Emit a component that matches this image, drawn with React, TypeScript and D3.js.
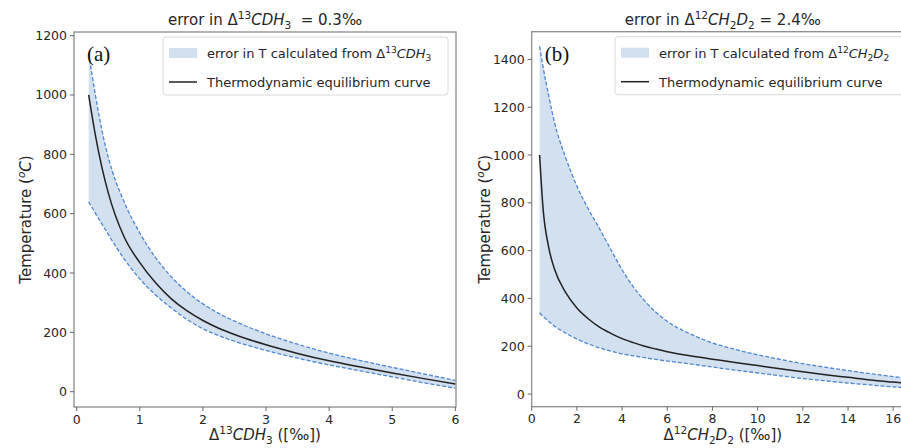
import React from "react";
import * as d3 from "d3";

// Panel (a): Δ13CDH3 (‰) vs temperature (°C)
const xA = [0.19, 0.3, 0.4, 0.5, 0.75, 1.0, 1.25, 1.5, 1.75, 2.0, 2.25, 2.5, 3.0, 3.5, 4.0, 4.5, 5.0, 5.5, 6.0];
const curveA = [1000, 860, 755, 670, 522, 435, 367, 313, 272, 240, 214, 193, 158, 129, 104, 83, 63, 44, 26];
const upperA = [1140, 995, 880, 790, 640, 535, 452, 387, 336, 296, 264, 238, 195, 160, 130, 105, 82, 60, 38];
const lowerA = [640, 600, 565, 530, 448, 380, 326, 282, 243, 212, 189, 170, 139, 113, 90, 70, 50, 30, 12];
const xTicksA = [0, 1, 2, 3, 4, 5, 6];
const yTicksA = [0, 200, 400, 600, 800, 1000, 1200];

// Panel (b): Δ12CH2D2 (‰) vs temperature (°C)
const xB = [0.35, 0.5, 0.75, 1.0, 1.5, 2.0, 2.5, 3.0, 3.5, 4.0, 4.5, 5.0, 5.5, 6.0, 7.0, 8.0, 9.0, 10.0, 11.0, 12.0, 13.0, 14.0, 15.0, 16.0, 17.0];
const curveB = [1000, 780, 615, 525, 425, 360, 315, 280, 254, 232, 215, 200, 188, 177, 160, 146, 132, 119, 106, 93, 81, 70, 59, 50, 41];
const upperB = [1455, 1370, 1250, 1140, 990, 870, 775, 692, 605, 520, 448, 390, 342, 304, 252, 214, 187, 164, 145, 127, 112, 98, 85, 73, 62];
const lowerB = [340, 325, 305, 285, 255, 230, 210, 193, 180, 168, 160, 152, 145, 138, 126, 113, 100, 88, 76, 65, 55, 46, 38, 30, 23];
const xTicksB = [0, 2, 4, 6, 8, 10, 12, 14, 16];
const yTicksB = [0, 200, 400, 600, 800, 1000, 1200, 1400];

const FONT = "DejaVu Sans, sans-serif";
const FILL = "#d3e0ef";
const DASH = "#4f86d0";

type Seg = { t: string; k?: "sup" | "sub"; it?: boolean };

function rich(segs: Seg[], fs: number) {
  let cur = 0;
  return segs.map((s, i) => {
    const target = s.k === "sup" ? -fs * 0.4 : s.k === "sub" ? fs * 0.25 : 0;
    const dy = target - cur;
    cur = target;
    return (
      <tspan
        key={i}
        dy={dy}
        fontSize={s.k ? fs * 0.7 : fs}
        fontStyle={s.it ? "italic" : "normal"}
      >
        {s.t}
      </tspan>
    );
  });
}

const CDH3: Seg[] = [{ t: "Δ" }, { t: "13", k: "sup" }, { t: "CDH", it: true }, { t: "3", k: "sub" }];
const CH2D2: Seg[] = [
  { t: "Δ" },
  { t: "12", k: "sup" },
  { t: "CH", it: true },
  { t: "2", k: "sub" },
  { t: "D", it: true },
  { t: "2", k: "sub" },
];

type PanelProps = {
  left: number;
  right: number;
  top: number;
  bottom: number;
  xDomain: [number, number];
  yDomain: [number, number];
  xs: number[];
  curve: number[];
  upper: number[];
  lower: number[];
  xTicks: number[];
  yTicks: number[];
  title: Seg[];
  xLabel: Seg[];
  legendLabel: Seg[];
  tag: string;
  legendWidth: number;
  yLabelX: number;
};

function Panel(p: PanelProps) {
  const x = d3.scaleLinear().domain(p.xDomain).range([p.left, p.right]);
  const y = d3.scaleLinear().domain(p.yDomain).range([p.bottom, p.top]);
  const idx = p.xs.map((_, i) => i);
  const area = d3
    .area<number>()
    .x((i) => x(p.xs[i]))
    .y0((i) => y(p.lower[i]))
    .y1((i) => y(p.upper[i]))
    .curve(d3.curveMonotoneX);
  const line = (arr: number[]) =>
    d3
      .line<number>()
      .x((i) => x(p.xs[i]))
      .y((i) => y(arr[i]))
      .curve(d3.curveMonotoneX)(idx) || "";
  const cx = (p.left + p.right) / 2;
  const cy = (p.top + p.bottom) / 2;
  const lx = p.right - 8 - p.legendWidth;
  const ly = p.top + 5;
  const pre = { whiteSpace: "pre" as const };
  return (
    <g>
      <path d={area(idx) || ""} fill={FILL} stroke="none" />
      <path d={line(p.upper)} fill="none" stroke={DASH} strokeWidth={1.3} strokeDasharray="4,2" />
      <path d={line(p.lower)} fill="none" stroke={DASH} strokeWidth={1.3} strokeDasharray="4,2" />
      <path d={line(p.curve)} fill="none" stroke="#222" strokeWidth={1.5} />
      <rect x={p.left} y={p.top} width={p.right - p.left} height={p.bottom - p.top} fill="none" stroke="#8c8c8c" strokeWidth={1.3} />
      {p.xTicks.map((t) => (
        <g key={"x" + t}>
          <line x1={x(t)} x2={x(t)} y1={p.bottom} y2={p.bottom + 4} stroke="#666" strokeWidth={1} />
          <text x={x(t)} y={p.bottom + 16.5} textAnchor="middle" fontFamily={FONT} fontSize={12.5} fill="#262626">
            {t}
          </text>
        </g>
      ))}
      {p.yTicks.map((t) => (
        <g key={"y" + t}>
          <line x1={p.left - 4} x2={p.left} y1={y(t)} y2={y(t)} stroke="#666" strokeWidth={1} />
          <text x={p.left - 7} y={y(t) + 4.5} textAnchor="end" fontFamily={FONT} fontSize={12.5} fill="#262626">
            {t}
          </text>
        </g>
      ))}
      <text x={cx} y={25} textAnchor="middle" fontFamily={FONT} fontSize={15} fill="#262626" style={pre}>
        {rich(p.title, 15)}
      </text>
      <text x={cx} y={440} textAnchor="middle" fontFamily={FONT} fontSize={15} fill="#262626" style={pre}>
        {rich(p.xLabel, 15)}
      </text>
      <text
        transform={`translate(${p.yLabelX},${cy}) rotate(-90)`}
        textAnchor="middle"
        fontFamily={FONT}
        fontSize={15}
        fill="#262626"
      >
        {rich(
          [{ t: "Temperature (" }, { t: "o", k: "sup", it: true }, { t: "C", it: true }, { t: ")" }],
          15
        )}
      </text>
      <text x={p.left + 13} y={p.top + 29} fontFamily="Liberation Serif, Times New Roman, serif" fontSize={21} fill="#111">
        {p.tag}
      </text>
      <rect x={lx} y={ly} width={p.legendWidth} height={58} rx={3} fill="#fff" fillOpacity={0.85} stroke="#dadada" strokeWidth={1} />
      <rect x={lx + 6} y={ly + 11} width={28} height={10} fill={FILL} />
      <line x1={lx + 6} x2={lx + 34} y1={ly + 45} y2={ly + 45} stroke="#222" strokeWidth={1.5} />
      <text x={lx + 44} y={ly + 21} fontFamily={FONT} fontSize={13} fill="#262626" style={pre}>
        {rich(p.legendLabel, 13)}
      </text>
      <text x={lx + 44} y={ly + 50} fontFamily={FONT} fontSize={13} fill="#262626">
        Thermodynamic equilibrium curve
      </text>
    </g>
  );
}

export default function App() {
  return (
    <svg width={901} height={448} style={{ position: "absolute", left: 0, top: 0, background: "#fff" }}>
      <rect width={901} height={448} fill="#fff" />
      <Panel
        left={74}
        right={456}
        top={32}
        bottom={407}
        xDomain={[-0.043, 6.01]}
        yDomain={[-51.6, 1212.3]}
        xs={xA}
        curve={curveA}
        upper={upperA}
        lower={lowerA}
        xTicks={xTicksA}
        yTicks={yTicksA}
        title={[{ t: "error in " }, ...CDH3, { t: "  = 0.3‰" }]}
        xLabel={[...CDH3, { t: " ([‰])" }]}
        legendLabel={[{ t: "error in T calculated from " }, ...CDH3]}
        tag="(a)"
        legendWidth={285}
        yLabelX={31}
      />
      <Panel
        left={531.7}
        right={914}
        top={31.7}
        bottom={406.7}
        xDomain={[0, 16.92]}
        yDomain={[-53, 1516]}
        xs={xB}
        curve={curveB}
        upper={upperB}
        lower={lowerB}
        xTicks={xTicksB}
        yTicks={yTicksB}
        title={[{ t: "error in " }, ...CH2D2, { t: " = 2.4‰" }]}
        xLabel={[...CH2D2, { t: " ([‰])" }]}
        legendLabel={[{ t: "error in T calculated from " }, ...CH2D2]}
        tag="(b)"
        legendWidth={291}
        yLabelX={490}
      />
    </svg>
  );
}
